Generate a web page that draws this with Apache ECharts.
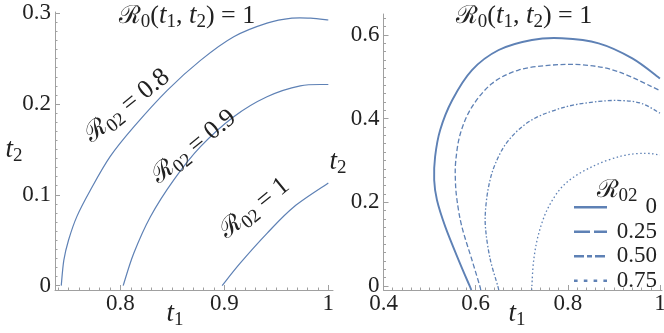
<!DOCTYPE html>
<html>
<head>
<meta charset="utf-8">
<script src="https://cdn.jsdelivr.net/npm/echarts@6/dist/echarts.min.js"></script>
<style>
  html, body { margin: 0; padding: 0; background: #fff; }
  #chart { width: 664px; height: 333px; }
</style>
</head>
<body>
<div id="chart"></div>
<script>
// left panel: R0(t1,t2) = 1 for three values of R02
const leftNames = ['0.8', '0.9', '1'];
const leftCurve08 = [[0.743, 0], [0.7455, 0.028], [0.750, 0.050], [0.758, 0.076], [0.771, 0.105],
  [0.790, 0.142], [0.813, 0.175], [0.845, 0.215], [0.877, 0.248], [0.909, 0.274],
  [0.941, 0.289], [0.965, 0.2945], [0.983, 0.2945], [1.0, 0.2925]];
const leftCurve09 = [[0.8026, 0], [0.8128, 0.0356], [0.8288, 0.0759], [0.851, 0.116], [0.877, 0.153],
  [0.909, 0.186], [0.941, 0.208], [0.973, 0.220], [1.0, 0.2215]];
const leftCurve1 = [[0.8978, 0], [0.915, 0.0245], [0.941, 0.0576], [0.967, 0.0869], [1.0, 0.113]];
// where the "R02 = .." labels sit (data coords of left panel)
const leftLabelAt = [[0.8064, 0.198], [0.8705, 0.153], [0.929, 0.085]];

// right panel: legend values of R02
const rightNames = ['0', '0.25', '0.50', '0.75'];
const rightCurve0 = [[0.5906, -0.0096], [0.587, 0], [0.563, 0.062], [0.534, 0.142], [0.516, 0.2055],
  [0.510, 0.253], [0.512, 0.309], [0.523, 0.373], [0.549, 0.444], [0.592, 0.516], [0.650, 0.564],
  [0.722, 0.588], [0.787, 0.592], [0.867, 0.580], [0.940, 0.544], [1.0, 0.496]];
const rightCurve25 = [[0.611, -0.0096], [0.609, 0], [0.592, 0.062], [0.570, 0.142], [0.5595, 0.2055],
  [0.556, 0.253], [0.557, 0.301], [0.567, 0.365], [0.592, 0.428], [0.6355, 0.484], [0.693, 0.516],
  [0.766, 0.528], [0.838, 0.528], [0.910, 0.512], [1.0, 0.467]];
const rightCurve50 = [[0.650, -0.0096], [0.648, 0], [0.632, 0.062], [0.6225, 0.126], [0.621, 0.174],
  [0.628, 0.237], [0.643, 0.293], [0.672, 0.349], [0.722, 0.397], [0.795, 0.428], [0.867, 0.441],
  [0.918, 0.443], [0.961, 0.436], [1.0, 0.413]];
const rightCurve75 = [[0.7215, -0.0096], [0.722, 0], [0.726, 0.062], [0.737, 0.126], [0.7585, 0.1895],
  [0.795, 0.245], [0.8525, 0.285], [0.9176, 0.311], [0.968, 0.317], [1.0, 0.313]];

// tick labels
const leftXTicks = [0.8, 0.9, 1];
const leftYTicks = [0, 0.1, 0.2, 0.3];
const rightXTicks = [0.4, 0.6, 0.8, 1];
const rightYTicks = [0, 0.2, 0.4, 0.6];

function steps(a, b, d) {
  const out = [];
  for (let v = a; v <= b + 1e-9; v += d) out.push(Math.round(v * 1000) / 1000);
  return out;
}
const leftXMinor = steps(0.74, 1.0, 0.01);
const leftYMinor = steps(0, 0.3, 0.01);
const rightXMinor = steps(0.4, 1.0, 0.02);
const rightYMinor = steps(0, 0.64, 0.02);

const blue = '#5e81b5';
const grey = '#a0a0a0';
const ink = '#222';
const serif = 'Liberation Serif';

const rich = {
  R: { fontFamily: 'DejaVu Serif', fontSize: 25, fill: ink, color: ink },
  i: { fontFamily: serif, fontStyle: 'italic', fontSize: 27, fill: ink, color: ink },
  n: { fontFamily: serif, fontSize: 26, fill: ink, color: ink },
  s: { fontFamily: serif, fontSize: 19, fill: ink, color: ink, padding: [13, 0, 0, 0] }
};

function axisPair(dim, grid, min, max, minor, major, margin) {
  const base = {
    type: 'value', gridIndex: grid, min: min, max: max,
    position: dim === 'x' ? 'bottom' : 'left',
    splitLine: { show: false }
  };
  return [
    Object.assign({}, base, {
      axisLine: { show: true, onZero: false, lineStyle: { color: grey, width: 1 } },
      axisTick: { show: true, inside: true, length: 2.5, customValues: minor, lineStyle: { color: grey } },
      axisLabel: { show: false }
    }),
    Object.assign({}, base, {
      axisLine: { show: false, onZero: false },
      axisTick: { show: true, inside: true, length: 5, customValues: major, lineStyle: { color: grey } },
      axisLabel: { show: true, customValues: major, margin: margin, fontSize: 23, fontFamily: serif, color: ink }
    })
  ];
}

// catmull-rom through the pixel points -> cubic bezier path
function splinePath(p) {
  let d = 'M' + p[0][0] + ',' + p[0][1];
  for (let i = 0; i < p.length - 1; i++) {
    const a = p[i - 1] || p[i], b = p[i], c = p[i + 1], e = p[i + 2] || c;
    d += ' C' + [b[0] + (c[0] - a[0]) / 6, b[1] + (c[1] - a[1]) / 6,
      c[0] - (e[0] - b[0]) / 6, c[1] - (e[1] - b[1]) / 6, c[0], c[1]].join(',');
  }
  return d;
}

function curve(name, data, axis, width, dash) {
  return {
    type: 'custom', name: name, data: data,
    xAxisIndex: axis, yAxisIndex: axis,
    encode: { x: 0, y: 1 }, silent: true,
    itemStyle: { color: blue },
    renderItem: function (params, api) {
      if (params.dataIndex !== 0) return null;
      const pts = data.map(function (d) { return api.coord(d); });
      return {
        type: 'path',
        shape: { pathData: splinePath(pts) },
        style: { fill: null, stroke: blue, lineWidth: width, lineDash: dash, lineCap: 'butt' }
      };
    }
  };
}

// legend swatches, drawn as little paths (33 x 2.6)
const legendIcons = [
  'path://M0,0H33V2.6H0Z',
  'path://M0,0H16V2.6H0Z M20,0H33V2.6H20Z',
  'path://M0,0H10V2.6H0Z M13,0H18V2.6H13Z M21,0H31V2.6H21Z M33,0H33V2.6H33Z',
  'path://M0,0H3.6V2.6H0Z M9.8,0H13.4V2.6H9.8Z M19.6,0H23.2V2.6H19.6Z M29.4,0H33V2.6H29.4Z'
];

const chart = echarts.init(document.getElementById('chart'));
chart.setOption({
  animation: false,
  grid: [
    { left: 55, top: 12, width: 278, height: 278, containLabel: false, outerBoundsMode: 'none' },
    { left: 383.5, top: 14, width: 278.5, height: 276, containLabel: false, outerBoundsMode: 'none' }
  ],
  xAxis: [].concat(
    axisPair('x', 0, 0.737, 1.0045, leftXMinor, leftXTicks, 2),
    axisPair('x', 1, 0.4, 1.0044, rightXMinor, rightXTicks, 2)
  ),
  yAxis: [].concat(
    axisPair('y', 0, -0.0048, 0.3013, leftYMinor, leftYTicks, 4),
    axisPair('y', 1, -0.0096, 0.65, rightYMinor, rightYTicks, 4)
  ),
  legend: {
    orient: 'vertical', left: 574, top: 195, padding: 0,
    itemWidth: 33, itemHeight: 2.6, itemGap: 0,
    selectedMode: false,
    data: rightNames.map(function (n, k) { return { name: n, icon: legendIcons[k] }; }),
    formatter: function (n) { return '{v|' + n + '}'; },
    textStyle: { rich: { v: { width: 45, height: 24.5, lineHeight: 24.5, align: 'right', fontSize: 23, fontFamily: serif, color: ink } } }
  },
  series: [
    curve(leftNames[0], leftCurve08, 0, 1.2, null),
    curve(leftNames[1], leftCurve09, 0, 1.2, null),
    curve(leftNames[2], leftCurve1, 0, 1.2, null),
    curve(rightNames[0], rightCurve0, 2, 1.9, null),
    curve(rightNames[1], rightCurve25, 2, 1.3, [5, 2.5]),
    curve(rightNames[2], rightCurve50, 2, 1.3, [4, 2, 1.5, 2]),
    curve(rightNames[3], rightCurve75, 2, 1.3, [1.5, 2.5])
  ]
});

function txt(x, y, text, rot) {
  return {
    type: 'text', x: x, y: y, rotation: (rot || 0) * Math.PI / 180, silent: true, z: 50,
    style: { text: text, rich: rich, align: 'center', verticalAlign: 'middle' }
  };
}

const title = '{R|ℛ}{s|0}{n|(}{i|t}{s|1}{n|, }{i|t}{s|2}{n|) = 1}';
const graphics = [
  txt(187, 16, title),
  txt(524, 16, title),
  txt(175, 314, '{i|t}{s|1}'),
  txt(517, 314, '{i|t}{s|1}'),
  txt(14, 150, '{i|t}{s|2}'),
  txt(338, 162, '{i|t}{s|2}'),
  txt(617, 190, '{R|ℛ}{s|02}')
];
leftNames.forEach(function (n, k) {
  const p = chart.convertToPixel({ gridIndex: 0 }, leftLabelAt[k]);
  graphics.push(txt(p[0], p[1], '{R|ℛ}{s|02}{n| = ' + n + '}', 39));
});
chart.setOption({ graphic: graphics });
</script>
</body>
</html>
